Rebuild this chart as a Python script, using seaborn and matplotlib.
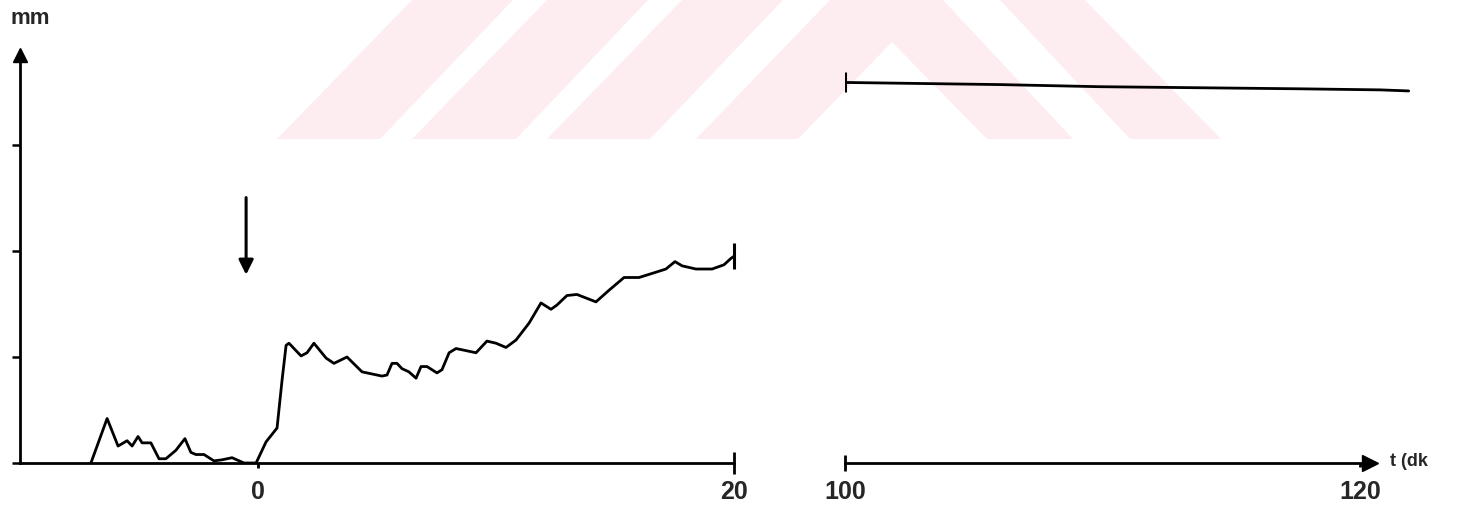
import matplotlib
matplotlib.use("Agg")
import matplotlib.pyplot as plt
import matplotlib.transforms as mtransforms
from matplotlib.patches import Polygon
import seaborn as sns

# ---- data ----
t_left = [-7.02, -6.34, -5.88, -5.50, -5.29, -5.04, -4.87, -4.50, -4.16, -3.87,
          -3.45, -3.07, -2.82, -2.61, -2.27, -1.85, -1.51, -1.09, -0.59, -0.08,
          0.34, 0.80, 1.01, 1.18, 1.30, 1.81, 2.06, 2.35, 2.86, 3.19,
          3.74, 4.37, 5.21, 5.42, 5.63, 5.84, 6.05, 6.34, 6.64, 6.85,
          7.10, 7.52, 7.73, 8.03, 8.32, 9.16, 9.62, 10.00, 10.42, 10.84,
          11.39, 11.89, 12.31, 12.56, 12.98, 13.40, 14.20, 14.75, 15.38, 16.01,
          16.72, 17.14, 17.52, 17.82, 18.40, 19.08, 19.58, 19.87, 20.00]
mm_left = [0.00, 0.42, 0.16, 0.21, 0.16, 0.25, 0.19, 0.19, 0.04, 0.04,
           0.12, 0.23, 0.10, 0.08, 0.08, 0.02, 0.03, 0.05, 0.00, 0.00,
           0.20, 0.33, 0.78, 1.11, 1.13, 1.01, 1.04, 1.13, 0.99, 0.94,
           1.00, 0.86, 0.82, 0.83, 0.94, 0.94, 0.89, 0.86, 0.80, 0.91,
           0.91, 0.85, 0.88, 1.04, 1.08, 1.04, 1.15, 1.13, 1.09, 1.16,
           1.32, 1.51, 1.45, 1.49, 1.58, 1.59, 1.52, 1.63, 1.75, 1.75,
           1.80, 1.83, 1.90, 1.86, 1.83, 1.83, 1.87, 1.93, 1.95]
t_right = [100.0, 106.0, 109.9, 113.8, 117.7, 120.8, 121.9]
mm_right = [3.59, 3.57, 3.55, 3.54, 3.53, 3.52, 3.51]

left_ticks = [0, 20]
right_ticks = [100, 120]
y_ticks = [0, 1, 2, 3]
arrow_t = -0.5
arrow_from, arrow_to = 2.53, 1.75

W, H, DPI = 1464, 512, 100
sns.set_theme(style="white")
plt.rcParams['font.family'] = ['Liberation Sans', 'DejaVu Sans']

fig = plt.figure(figsize=(W / DPI, H / DPI), dpi=DPI)
fig.patch.set_facecolor("white")

# watermark (decorative, figure pixel coords, y from top)
wm = [
    [(277, 139), (380, 139), (513, 0), (412, 0)],
    [(412, 139), (516, 139), (648, 0), (547, 0)],
    [(547, 139), (650, 139), (783, 0), (682, 0)],
    [(696, 139), (798, 139), (892, 42), (987, 139), (1073, 139), (943, 0), (830, 0)],
    [(1130, 139), (1221, 139), (1085, 0), (1000, 0)],
]
for poly in wm:
    pts = [(x, H - y) for x, y in poly]
    fig.patches.append(Polygon(pts, closed=True, facecolor="#fdedf0", edgecolor="none",
                               transform=mtransforms.IdentityTransform(), zorder=-5))

ybot = 49 / H
yh = 424 / H
ax1 = fig.add_axes([20 / W, ybot, 729 / W, yh])
ax2 = fig.add_axes([845 / W, ybot, 592 / W, yh])
for ax in (ax1, ax2):
    ax.set_facecolor("none")
    ax.set_ylim(0, 4.0)
    for s in ("top", "right"):
        ax.spines[s].set_visible(False)
    ax.spines["bottom"].set_linewidth(2)
    ax.spines["bottom"].set_color("black")

lw = 2.0
# left panel
ax1.set_xlim(-10, 20.63)
sns.lineplot(x=t_left, y=mm_left, ax=ax1, color="black", lw=lw, sort=False,
             estimator=None, solid_joinstyle="round", solid_capstyle="round")
ax1.plot(t_left[-1], mm_left[-1], marker="|", ms=19, mew=2.2, color="black")
ax1.spines["left"].set_linewidth(2)
ax1.spines["left"].set_color("black")
ax1.spines["left"].set_bounds(0, 3.85)
ax1.spines["bottom"].set_bounds(-10, 20)
ax1.plot(-10, 3.85, marker="^", ms=10, color="black", clip_on=False)
ax1.set_yticks(y_ticks)
ax1.set_yticklabels([])
ax1.tick_params(axis="y", direction="out", length=6, width=1.8, color="black", left=True)
ax1.set_xticks([left_ticks[1]], labels=[str(left_ticks[1])])
ax1.set_xticks([left_ticks[0]], labels=[str(left_ticks[0])], minor=True)
ax1.tick_params(axis="x", which="major", direction="inout", length=16.5, width=2,
                pad=4, color="black", bottom=True, labelsize=18)
ax1.tick_params(axis="x", which="minor", direction="out", length=3.5, width=2,
                pad=9, color="black", bottom=True, labelsize=18)
for lab in ax1.get_xticklabels(which="both"):
    lab.set_fontweight("bold")
ax1.annotate("", xy=(arrow_t, arrow_to), xytext=(arrow_t, arrow_from),
             arrowprops=dict(arrowstyle="-|>", lw=2.2, color="black", mutation_scale=22))

# right panel
ax2.set_xlim(100, 123)
sns.lineplot(x=t_right, y=mm_right, ax=ax2, color="black", lw=lw, sort=False,
             estimator=None, solid_joinstyle="round", solid_capstyle="round")
ax2.plot(t_right[0], mm_right[0], marker="|", ms=14, mew=2.2, color="black")
ax2.spines["left"].set_visible(False)
ax2.spines["bottom"].set_bounds(100, 120.4)
ax2.plot(120.4, 0, marker=">", ms=11, color="black", clip_on=False)
ax2.set_yticks([])
ax2.set_xticks([right_ticks[0]], labels=[str(right_ticks[0])])
ax2.set_xticks([right_ticks[1]], labels=[str(right_ticks[1])], minor=True)
ax2.tick_params(axis="x", which="major", direction="inout", length=12, width=2,
                pad=6.5, color="black", bottom=True, labelsize=18)
ax2.tick_params(axis="x", which="minor", direction="out", length=3, width=2,
                pad=9.5, color="black", bottom=True, labelsize=18)
for lab in ax2.get_xticklabels(which="both"):
    lab.set_fontweight("bold")

fig.text(10 / W, 1 - 19 / H, "mm", fontsize=16, fontweight="bold", va="center", ha="left")
fig.text(1390 / W, 1 - 462 / H, "t (dk", fontsize=13, fontweight="bold", va="center", ha="left")

fig.savefig("out.png", dpi=DPI, facecolor="white")
